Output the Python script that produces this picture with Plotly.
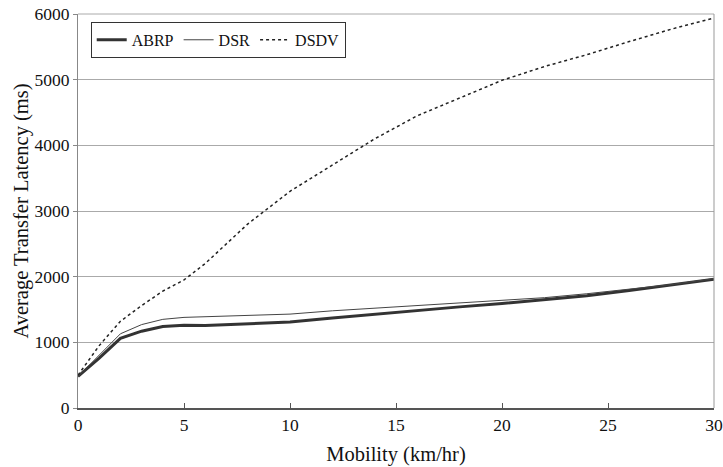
import plotly.graph_objects as go

mobility = [0, 1, 2, 3, 4, 5, 6, 8, 10, 12, 14, 16, 18, 20, 22, 24, 26, 28, 30]
abrp = [480, 760, 1060, 1170, 1240, 1260, 1255, 1280, 1310, 1370, 1430, 1490, 1540, 1590, 1650, 1710, 1790, 1870, 1960]
dsr = [480, 800, 1130, 1270, 1350, 1380, 1390, 1400, 1430, 1480, 1520, 1560, 1590, 1630, 1680, 1740, 1810, 1880, 1970]
dsdv = [500, 950, 1320, 1560, 1780, 1950, 2200, 2800, 3300, 3700, 4100, 4450, 4720, 4990, 5200, 5380, 5580, 5770, 5940]

font = "Liberation Serif, Times New Roman, serif"

fig = go.Figure()
fig.add_trace(go.Scatter(x=mobility, y=abrp, mode="lines", name="ABRP",
                         line=dict(color="#333333", width=3)))
fig.add_trace(go.Scatter(x=mobility, y=dsr, mode="lines", name="DSR",
                         line=dict(color="#444444", width=1)))
fig.add_trace(go.Scatter(x=mobility, y=dsdv, mode="lines", name="DSDV",
                         line=dict(color="#222222", width=1.5, dash="dot")))

fig.update_layout(
    width=723, height=467,
    margin=dict(l=78, r=9, t=14, b=59, autoexpand=False),
    paper_bgcolor="white", plot_bgcolor="white",
    font=dict(family=font, size=18, color="#111111"),
    showlegend=True,
    legend=dict(orientation="h", x=0.02, y=0.98, xanchor="left", yanchor="top",
                bordercolor="#333333", borderwidth=1, bgcolor="white",
                font=dict(family=font, size=16), itemwidth=30,
                tracegroupgap=0),
    xaxis=dict(range=[0, 30], tickvals=[0, 5, 10, 15, 20, 25, 30],
               showgrid=False, zeroline=False, automargin=False,
               ticklabeloverflow="allow",
               showline=True, linecolor="#555555", linewidth=2, mirror=False,
               ticks="inside", ticklen=5, tickcolor="#555555",
               tickfont=dict(family=font, size=17.5),
               title=dict(text="Mobility (km/hr)", font=dict(family=font, size=20.5), standoff=13)),
    yaxis=dict(range=[0, 6000], tickvals=[0, 1000, 2000, 3000, 4000, 5000, 6000],
               showgrid=True, gridcolor="#aaaaaa", gridwidth=1, zeroline=False,
               automargin=False, ticklabeloverflow="allow",
               showline=True, linecolor="#888888", linewidth=1,
               ticks="outside", ticklen=4, tickcolor="#888888",
               tickfont=dict(family=font, size=17.5),
               title=dict(text="Average Transfer Latency (ms)", font=dict(family=font, size=20.5), standoff=0)),
)
fig.add_shape(type="line", xref="paper", yref="paper", x0=0, x1=1, y0=1, y1=1,
              line=dict(color="#aaaaaa", width=1))
fig.add_shape(type="line", xref="paper", yref="paper", x0=1, x1=1, y0=0, y1=1,
              line=dict(color="#999999", width=1))

fig.write_html("out.html", config={"displayModeBar": False},
               post_script="document.body.style.margin='0';")
